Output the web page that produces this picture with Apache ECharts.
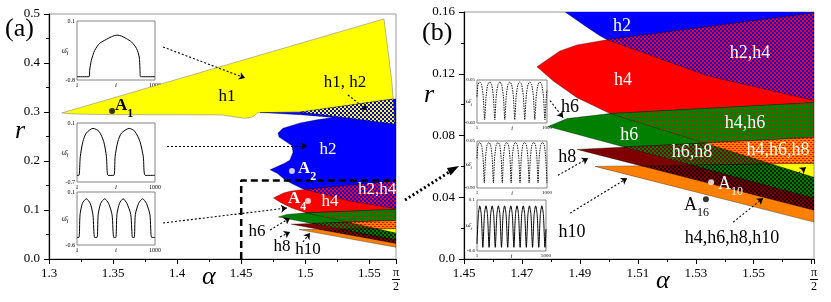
<!DOCTYPE html>
<html><head><meta charset="utf-8">
<script src="https://cdn.jsdelivr.net/npm/echarts@6.0.0/dist/echarts.min.js"></script>
<style>html,body{margin:0;padding:0;background:#fff;}#chart{width:831px;height:302px;}</style>
</head><body><div id="chart"></div>
<script>
const PI2 = Math.PI / 2;
const SERIF = 'Liberation Serif';

// ---------- stability regions in the (alpha, r) plane ----------
const regionH1 = [[1.310,0.298],[1.5614,0.490],[1.5645,0.427],[1.5676,0.361],[1.5690,0.310],[1.5700,0.2755],[1.5216,0.292],[1.496,0.300],[1.463,0.2985],[1.459,0.290],[1.453,0.287],[1.445,0.290],[1.435,0.294],[1.40,0.2945],[1.35,0.2945],[1.32,0.296]];
const regionH1H2 = [[1.496,0.300],[1.5687,0.3265],[1.5700,0.2755],[1.5216,0.292]];
const regionH2 = [[1.4647,0.2990],[1.496,0.2995],[1.5687,0.3265],[1.5708,0.3265],[1.5708,0.1026],[1.5339,0.1187],[1.4994,0.1420],[1.4970,0.1445],[1.4918,0.1510],[1.4849,0.1600],[1.4780,0.1750],[1.4725,0.1820],[1.4842,0.1960],[1.4880,0.2020],[1.4904,0.2180],[1.4896,0.2310],[1.4842,0.2410],[1.4795,0.2490],[1.4787,0.2570],[1.4826,0.2670],[1.4959,0.2776],[1.5090,0.2840],[1.5216,0.2890],[1.4960,0.2945]];
const regionH4 = [[1.4752,0.1245],[1.4831,0.1348],[1.4890,0.1387],[1.4994,0.1420],[1.5708,0.1594],[1.5708,0.0529],[1.5004,0.0942],[1.4890,0.1045],[1.4807,0.1155]];
const regionH6 = [[1.4790,0.0858],[1.4856,0.0910],[1.5004,0.0942],[1.5708,0.1013],[1.5708,0.0394]];
const regionH8 = [[1.4890,0.0710],[1.5708,0.0787],[1.5708,0.0316]];
const regionH10 = [[1.4952,0.0600],[1.5708,0.0619],[1.5708,0.0239]];

// ---------- marked points ----------
const pointsA_black = [[1.3492,0.302]];
const pointsA_white = [[1.4896,0.1796],[1.5021,0.1184]];
const pointsB_black = [[1.5335,0.0387]];
const pointsB_white = [[1.5353,0.0497]];

// ---------- region labels ----------
const labelsA = [
  {t:'h1', x:1.4389, y:0.3306, c:'#000'},
  {t:'h1, h2', x:1.5310, y:0.3592, c:'#000'},
  {t:'h2', x:1.5177, y:0.2224, c:'#fff'},
  {t:'h2,h4', x:1.5560, y:0.1408, c:'#fff'},
  {t:'h4', x:1.5193, y:0.1163, c:'#fff'},
  {t:'h6', x:1.4623, y:0.0551, c:'#000'},
  {t:'h8', x:1.4818, y:0.0245, c:'#000'},
  {t:'h10', x:1.5021, y:0.0184, c:'#000'},
  {t:'{ab|A}{sb|1}', x:1.3515, y:0.3122, c:'#000', left:true},
  {t:'{ab|A}{sb|2}', x:1.4943, y:0.1837, c:'#fff', left:true},
  {t:'{ab|A}{sb|4}', x:1.4865, y:0.1224, c:'#fff', left:true}
];
const labelsB = [
  {t:'h2', x:1.5045, y:0.1510, c:'#fff'},
  {t:'h2,h4', x:1.5487, y:0.1335, c:'#fff'},
  {t:'h4', x:1.5049, y:0.1155, c:'#fff'},
  {t:'h6', x:1.5070, y:0.0800, c:'#fff'},
  {t:'h4,h6', x:1.5470, y:0.0877, c:'#fff'},
  {t:'h6', x:1.4866, y:0.0981, c:'#000'},
  {t:'h6,h8', x:1.5287, y:0.0690, c:'#fff'},
  {t:'h4,h6,h8', x:1.5584, y:0.0703, c:'#fff'},
  {t:'h8', x:1.4856, y:0.0658, c:'#000'},
  {t:'h10', x:1.4873, y:0.0174, c:'#000'},
  {t:'h4,h6,h8,h10', x:1.5425, y:0.0135, c:'#000'},
  {t:'{a|A}{s|10}', x:1.5377, y:0.0484, c:'#fff', left:true},
  {t:'{a|A}{s|16}', x:1.5259, y:0.0348, c:'#000', left:true}
];

// ---------- pointer arrows ----------
const arrowsA = [
  [[1.389,0.4327],[1.453,0.3694]],
  [[1.3921,0.2306],[1.5013,0.2306]],
  [[1.389,0.0735],[1.4857,0.1041]],
  [[1.5333,0.3347],[1.5482,0.3041]],
  [[1.4725,0.0592],[1.4881,0.0837]],
  [[1.4803,0.0449],[1.4881,0.0551]],
  [[1.4982,0.0347],[1.5037,0.0531]]
];
const arrowsB = [
  [[1.4797,0.1026],[1.4842,0.0916]],
  [[1.4824,0.0542],[1.4928,0.0652]],
  [[1.4866,0.0297],[1.5063,0.0523]],
  [[1.5429,0.0239],[1.5532,0.0394]],
  [[1.5655,0.0558],[1.5680,0.0594]]
];
const zoomBox = [[1.45,0],[1.45,0.16],[PI2,0.16]];

// ---------- inset time series (i, omega_i) ----------
const insetA1 = [[1,-0.75],[155,-0.75],[163,-0.65],[185,-0.5],[227,-0.35],[292,-0.24],[378,-0.18],[442,-0.14],[515,-0.115],[571,-0.13],[635,-0.17],[700,-0.22],[764,-0.32],[798,-0.45],[807,-0.62],[815,-0.75],[1000,-0.75]];
const insetA2 = [[1,-0.61],[26,-0.61],[43,-0.357],[77,-0.151],[120,-0.037],[206,0.027],[283,-0.014],[343,-0.151],[378,-0.357],[399,-0.61],[472,-0.61],[489,-0.357],[524,-0.151],[571,-0.037],[670,0.027],[742,-0.014],[807,-0.151],[850,-0.357],[876,-0.61],[1000,-0.61]];
const insetA3 = [[1,-0.5],[26,-0.5],[40,-0.2],[70,-0.05],[120,0.01],[170,-0.05],[205,-0.2],[227,-0.5],[258,-0.5],[272,-0.2],[305,-0.05],[356,0.01],[405,-0.05],[450,-0.2],[472,-0.5],[498,-0.5],[512,-0.2],[545,-0.05],[592,0.01],[640,-0.05],[690,-0.2],[712,-0.5],[734,-0.5],[748,-0.2],[790,-0.05],[841,0.01],[890,-0.05],[935,-0.2],[957,-0.5],[1000,-0.5]];
const insetB1 = [[1,-0.2],[15,-0.02],[40,0.02],[65,-0.02],[90,-0.2],[110,-0.55],[130,-0.2],[155,-0.02],[183,0.02],[210,-0.02],[235,-0.2],[255,-0.55],[275,-0.2],[300,-0.02],[326,0.02],[352,-0.02],[378,-0.2],[398,-0.55],[418,-0.2],[443,-0.02],[469,0.02],[495,-0.02],[520,-0.2],[540,-0.55],[560,-0.2],[586,-0.02],[612,0.02],[638,-0.02],[663,-0.2],[683,-0.55],[703,-0.2],[729,-0.02],[755,0.02],[781,-0.02],[806,-0.2],[826,-0.55],[846,-0.2],[872,-0.02],[898,0.02],[924,-0.02],[950,-0.2],[970,-0.55],[990,-0.2],[1000,-0.1]];
const insetB2 = [[1,-0.3],[15,-0.03],[40,0.02],[65,-0.03],[88,-0.3],[105,-0.8],[122,-0.3],[145,-0.03],[170,0.02],[195,-0.03],[218,-0.3],[235,-0.8],[252,-0.3],[275,-0.03],[300,0.02],[325,-0.03],[346,-0.3],[362,-0.8],[378,-0.3],[400,-0.03],[425,0.02],[450,-0.03],[472,-0.3],[488,-0.8],[504,-0.3],[526,-0.03],[550,0.02],[575,-0.03],[598,-0.3],[615,-0.8],[632,-0.3],[655,-0.03],[680,0.02],[705,-0.03],[728,-0.3],[745,-0.8],[762,-0.3],[785,-0.03],[810,0.02],[835,-0.03],[856,-0.3],[872,-0.8],[888,-0.3],[910,-0.03],[935,0.02],[960,-0.03],[982,-0.3],[1000,-0.8]];
const insetB3 = [[1,-0.5],[100,-0.1],[200,0.02],[310,-0.1],[425,-0.55],[540,-0.1],[650,0.02],[760,-0.1],[875,-0.55],[990,-0.1],[1100,0.02],[1210,-0.1],[1325,-0.55],[1440,-0.1],[1550,0.02],[1660,-0.1],[1775,-0.55],[1890,-0.1],[2000,0.02],[2110,-0.1],[2225,-0.55],[2340,-0.1],[2450,0.02],[2560,-0.1],[2675,-0.55],[2790,-0.1],[2900,0.02],[3010,-0.1],[3125,-0.55],[3240,-0.1],[3350,0.02],[3460,-0.1],[3575,-0.55],[3690,-0.1],[3800,0.02],[3910,-0.1],[4025,-0.55],[4140,-0.1],[4250,0.02],[4360,-0.1],[4475,-0.55],[4590,-0.1],[4700,0.02],[4810,-0.1],[4925,-0.55],[5000,-0.3]];

// ---------- helpers ----------
const lerp = (P, Q, t) => [P[0] + (Q[0] - P[0]) * t, P[1] + (Q[1] - P[1]) * t];
function clipPolygon(subject, clip) {
  let area = 0;
  for (let i = 0; i < clip.length; i++) {
    const a = clip[i], b = clip[(i + 1) % clip.length];
    area += a[0] * b[1] - b[0] * a[1];
  }
  const sgn = area > 0 ? 1 : -1;
  let out = subject.slice();
  for (let i = 0; i < clip.length && out.length; i++) {
    const A = clip[i], B = clip[(i + 1) % clip.length];
    const side = p => sgn * ((B[0] - A[0]) * (p[1] - A[1]) - (B[1] - A[1]) * (p[0] - A[0]));
    const inp = out; out = [];
    for (let j = 0; j < inp.length; j++) {
      const P = inp[(j + inp.length - 1) % inp.length], Q = inp[j];
      const sp = side(P), sq = side(Q);
      if (sq >= 0) {
        if (sp < 0) out.push(lerp(P, Q, sp / (sp - sq)));
        out.push(Q);
      } else if (sp >= 0) {
        out.push(lerp(P, Q, sp / (sp - sq)));
      }
    }
  }
  return out;
}
function pattern(size, bg, fg, cells) {
  const c = document.createElement('canvas');
  c.width = c.height = size;
  const g = c.getContext('2d');
  g.fillStyle = bg; g.fillRect(0, 0, size, size);
  g.fillStyle = fg;
  cells.forEach(r => g.fillRect(r[0], r[1], r[2], r[3]));
  return {image: c, repeat: 'repeat'};
}
const C = {yellow:'#ffff00', blue:'#0000ff', red:'#ff0000', green:'#007f00', darkred:'#7f0000', orange:'#ff8000', black:'#000'};
const checker = [[0,0,2,2],[2,2,2,2]];
const P = {
  h1h2: pattern(4, C.yellow, C.blue, checker),
  h2h4: pattern(4, C.red, C.blue, checker),
  h4h6: pattern(4, C.green, C.red, [[0,0,1,1]]),
  h4h6h8: pattern(4, C.orange, C.red, [[0,0,2,1],[2,2,2,1]]),
  h6h8: pattern(4, C.green, C.darkred, checker),
  h6h8h10: pattern(4, C.green, '#002000', checker),
  h8h10: pattern(4, C.darkred, '#200000', checker)
};
const h8in6 = clipPolygon(regionH8, regionH6);
const h10in8 = clipPolygon(regionH10, regionH8);
const h10in8in6 = clipPolygon(h10in8, regionH6);
const shapes = [
  {pts: regionH1, fill: C.yellow, stroke: '#888'},
  {pts: regionH2, fill: C.blue},
  {pts: regionH4, fill: C.red},
  {pts: regionH6, fill: C.green},
  {pts: regionH8, fill: C.darkred},
  {pts: regionH10, fill: C.orange},
  {pts: regionH1H2, fill: P.h1h2},
  {pts: clipPolygon(regionH2, regionH4), fill: P.h2h4},
  {pts: clipPolygon(regionH6, regionH4), fill: P.h4h6},
  {pts: h8in6, fill: P.h6h8},
  {pts: h10in8, fill: P.h8h10},
  {pts: clipPolygon(h8in6, regionH4), fill: P.h4h6h8},
  {pts: h10in8in6, fill: P.h6h8h10},
  {pts: clipPolygon(h10in8in6, regionH4), fill: C.yellow}
];

const piRich = {
  p: {fontSize: 12, lineHeight: 11, fontFamily: SERIF, color: '#000'},
  b: {width: 8, height: 1, backgroundColor: '#000', lineHeight: 3, fontSize: 1},
  d: {fontSize: 12, lineHeight: 12, fontFamily: SERIF, color: '#000'}
};
function mainX(gi, min, interval) {
  return {
    type: 'value', gridIndex: gi, min: min, max: PI2, interval: interval,
    axisLine: {show: true, onZero: false, lineStyle: {color: '#000', width: 1.2}},
    axisTick: {show: true, length: 5, lineStyle: {color: '#000'}},
    minorTick: {show: true, splitNumber: 2, length: 3, lineStyle: {color: '#000'}},
    splitLine: {show: false},
    axisLabel: {
      color: '#000', fontFamily: SERIF, fontSize: 13, margin: 8, showMaxLabel: true, showMinLabel: true,
      formatter: v => Math.abs(v - PI2) < 1e-6 ? '{p|π}\n{b| }\n{d|2}' : String(+v.toFixed(2)),
      rich: piRich
    }
  };
}
function mainY(gi, max, interval, digits) {
  return {
    type: 'value', gridIndex: gi, min: 0, max: max, interval: interval,
    axisLine: {show: true, onZero: false, lineStyle: {color: '#000', width: 1.2}},
    axisTick: {show: true, length: 5, lineStyle: {color: '#000'}},
    minorTick: {show: true, splitNumber: 2, length: 3, lineStyle: {color: '#000'}},
    splitLine: {show: false},
    axisLabel: {color: '#000', fontFamily: SERIF, fontSize: 13, margin: 9,
      formatter: v => v === 0 ? '0.0' : v.toFixed(digits)}
  };
}

const insets = [
  {box: {left: 77, top: 21, width: 78, height: 59}, data: insetA1, xMax: 1000, y: [-0.8, 0.1], yl: ['-0.8', '0.1'], fs: 6, dotted: false, wgap: 12},
  {box: {left: 77, top: 123, width: 78, height: 59}, data: insetA2, xMax: 1000, y: [-0.7, 0.1], yl: ['-0.7', '0.1'], fs: 6, dotted: false, wgap: 12},
  {box: {left: 77, top: 192, width: 78, height: 53}, data: insetA3, xMax: 1000, y: [-0.6, 0.1], yl: ['-0.6', '0.1'], fs: 6, dotted: false, wgap: 12},
  {box: {left: 477, top: 80, width: 70, height: 43}, data: insetB1, xMax: 1000, y: [-0.6, 0.05], yl: ['-0.60', '0.05'], fs: 5, dotted: true, wgap: 8},
  {box: {left: 477, top: 141, width: 70, height: 47}, data: insetB2, xMax: 1000, y: [-0.9, 0.05], yl: ['-0.90', '0.05'], fs: 5, dotted: true, wgap: 8},
  {box: {left: 477, top: 200, width: 69, height: 51}, data: insetB3, xMax: 5000, y: [-0.6, 0.1], yl: ['-0.6', '0.1'], fs: 5, dotted: false, wgap: 8}
];

const grids = [
  {left: 49, top: 14, width: 347, height: 245, show: true, borderColor: '#999', borderWidth: 1},
  {left: 464, top: 12, width: 350, height: 247, show: true, borderColor: '#999', borderWidth: 1}
];
const xAxes = [mainX(0, 1.3, 0.05), mainX(1, 1.45, 0.02)];
const yAxes = [mainY(0, 0.5, 0.1, 1), mainY(1, 0.16, 0.04, 2)];
const series = [];

function regionSeries(gi) {
  return {
    type: 'custom', xAxisIndex: gi, yAxisIndex: gi, clip: true, z: 2, silent: true,
    data: shapes.map((s, i) => [s.pts.length ? s.pts[0][0] : 1.5, s.pts.length ? s.pts[0][1] : 0.05, i]),
    encode: {x: 0, y: 1},
    renderItem: (params, api) => {
      const s = shapes[api.value(2)];
      if (!s.pts || s.pts.length < 3) return null;
      return {
        type: 'polygon', z2: api.value(2),
        shape: {points: s.pts.map(p => api.coord(p))},
        style: {fill: s.fill, stroke: s.stroke || 'rgba(0,0,0,0.55)', lineWidth: 0.6}
      };
    }
  };
}
function labelSeries(gi, labels, fs) {
  return {
    type: 'custom', xAxisIndex: gi, yAxisIndex: gi, z: 20, silent: true,
    data: labels.map((l, i) => [l.x, l.y, i]),
    encode: {x: 0, y: 1},
    renderItem: (params, api) => {
      const l = labels[api.value(2)];
      const p = api.coord([l.x, l.y]);
      return {
        type: 'text', x: p[0], y: p[1],
        style: {
          text: l.t, fill: l.c, fontFamily: SERIF, fontSize: fs,
          align: l.left ? 'left' : 'center', verticalAlign: 'middle',
          rich: {
            a: {fontSize: fs, fontFamily: SERIF, fill: l.c, color: l.c},
            s: {fontSize: 12, fontFamily: SERIF, lineHeight: 28, verticalAlign: 'bottom', fill: l.c, color: l.c},
            ab: {fontSize: fs, fontWeight: 'bold', fontFamily: SERIF, fill: l.c, color: l.c},
            sb: {fontSize: 12, fontWeight: 'bold', fontFamily: SERIF, lineHeight: 28, verticalAlign: 'bottom', fill: l.c, color: l.c}
          }
        }
      };
    }
  };
}
function arrowSeries(gi, arrows) {
  return {
    type: 'lines', coordinateSystem: 'cartesian2d', xAxisIndex: gi, yAxisIndex: gi, z: 15, silent: true,
    symbol: ['none', 'arrow'], symbolSize: 6,
    lineStyle: {color: '#000', width: 1.1, type: [2, 2], opacity: 1, curveness: 0},
    data: arrows.map(a => ({coords: a}))
  };
}
function dotSeries(gi, pts, color) {
  return {type: 'scatter', xAxisIndex: gi, yAxisIndex: gi, z: 18, silent: true, symbolSize: 6,
    itemStyle: {color: color, borderWidth: 0}, data: pts};
}

series.push(regionSeries(0), regionSeries(1));
series.push({type: 'line', xAxisIndex: 0, yAxisIndex: 0, z: 12, silent: true, showSymbol: false,
  lineStyle: {color: '#000', width: 2.5, type: [7, 4]}, data: zoomBox});
series.push(arrowSeries(0, arrowsA), arrowSeries(1, arrowsB));
series.push(dotSeries(0, pointsA_black, '#000'), dotSeries(0, pointsA_white, '#fff'));
series.push(dotSeries(1, pointsB_black, '#000'), dotSeries(1, pointsB_white, '#fff'));
series.push(labelSeries(0, labelsA, 17), labelSeries(1, labelsB, 18));

const graphic = [
  {type: 'text', left: 5, top: 16, style: {text: '(a)', font: '26px "Liberation Serif"', fill: '#000'}},
  {type: 'text', left: 422, top: 20, style: {text: '(b)', font: '26px "Liberation Serif"', fill: '#000'}},
  {type: 'text', left: 15, top: 118, style: {text: 'r', font: 'italic 26px "Liberation Serif"', fill: '#000'}},
  {type: 'text', left: 424, top: 82, style: {text: 'r', font: 'italic 26px "Liberation Serif"', fill: '#000'}},
  {type: 'text', left: 202, top: 264, style: {text: 'α', font: 'italic 26px "Liberation Serif"', fill: '#000'}},
  {type: 'text', left: 656, top: 268, style: {text: 'α', font: 'italic 26px "Liberation Serif"', fill: '#000'}},
  {type: 'line', shape: {x1: 405, y1: 200, x2: 451, y2: 171}, style: {stroke: '#000', lineWidth: 3, lineDash: [2, 2.5]}, z: 50},
  {type: 'polygon', shape: {points: [[459, 166], [450.5, 175.5], [447, 168]]}, style: {fill: '#000'}, z: 50}
];

insets.forEach((ins, k) => {
  const gi = k + 2;
  grids.push(Object.assign({show: true, borderColor: '#666', borderWidth: 0.8, backgroundColor: '#fff', z: 3}, ins.box));
  xAxes.push({
    type: 'value', gridIndex: gi, min: 1, max: ins.xMax,
    axisLine: {show: false}, axisTick: {show: false}, splitLine: {show: false},
    axisLabel: {customValues: [1, (ins.xMax + 1) / 2, ins.xMax], fontSize: ins.fs, fontFamily: SERIF, color: '#000', margin: 2,
      showMinLabel: true, showMaxLabel: true,
      formatter: v => v < 2 ? '1' : (v > ins.xMax - 1 ? String(ins.xMax) : '{it|i}'),
      rich: {it: {fontStyle: 'italic', fontSize: ins.fs + 1, fontFamily: SERIF}}}
  });
  yAxes.push({
    type: 'value', gridIndex: gi, min: ins.y[0], max: ins.y[1],
    axisLine: {show: false}, axisTick: {show: false}, splitLine: {show: false},
    axisLabel: {customValues: ins.y, fontSize: ins.fs, fontFamily: SERIF, color: '#000', margin: 2,
      showMinLabel: true, showMaxLabel: true,
      formatter: v => Math.abs(v - ins.y[0]) < 1e-9 ? ins.yl[0] : ins.yl[1]}
  });
  series.push({
    type: 'line', xAxisIndex: gi, yAxisIndex: gi, showSymbol: false, silent: true, z: 6, smooth: 0.25,
    lineStyle: {color: '#000', width: ins.dotted ? 0.9 : 1, type: ins.dotted ? [1.5, 1] : 'solid'},
    data: ins.data
  });
  graphic.push({
    type: 'text', x: ins.box.left - ins.wgap, y: ins.box.top + ins.box.height / 2,
    style: {text: '{w|ω̄}{s|i}', align: 'center', verticalAlign: 'middle',
      rich: {w: {fontSize: ins.fs + 2, fontFamily: SERIF, fill: '#000'},
             s: {fontSize: ins.fs, fontStyle: 'italic', fontFamily: SERIF, fill: '#000', verticalAlign: 'bottom', lineHeight: 12}}}
  });
});

const chart = echarts.init(document.getElementById('chart'), null, {renderer: 'canvas'});
chart.setOption({
  animation: false,
  backgroundColor: '#fff',
  textStyle: {fontFamily: SERIF},
  grid: grids, xAxis: xAxes, yAxis: yAxes, series: series, graphic: graphic
});
</script></body></html>
